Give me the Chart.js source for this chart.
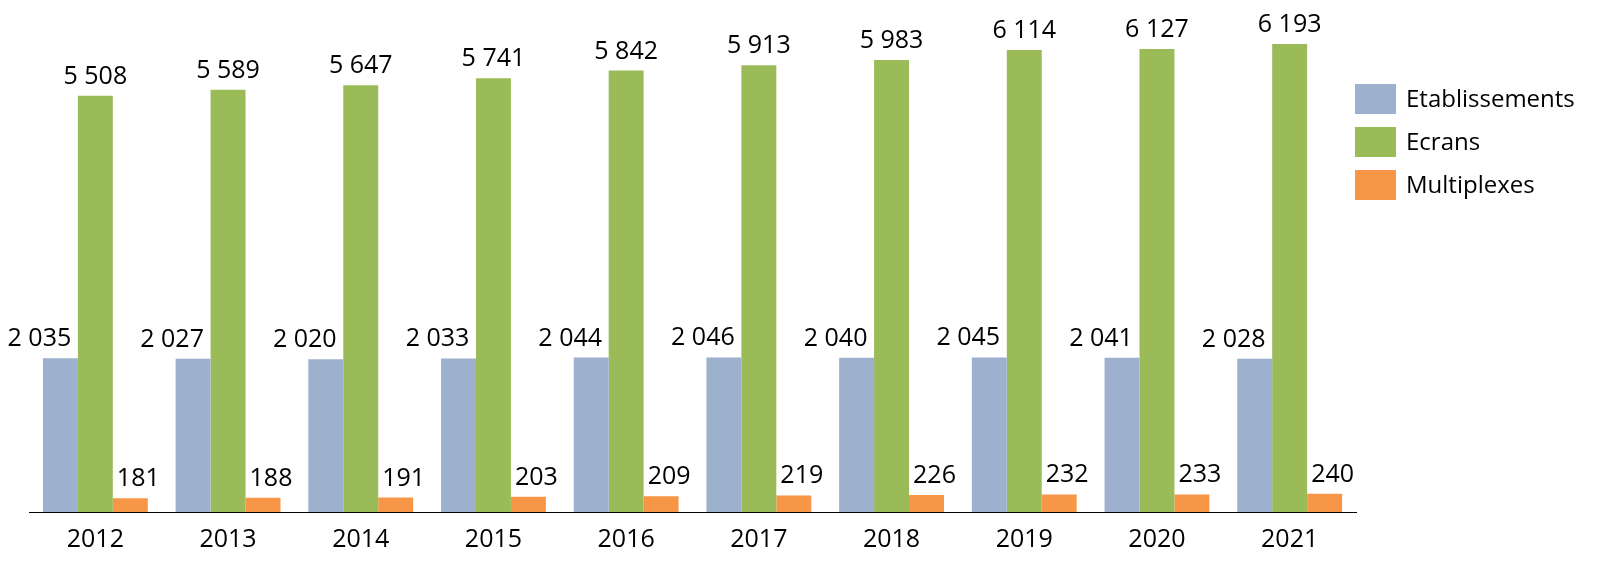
<!DOCTYPE html>
<html>
<head>
<meta charset="utf-8">
<script src="https://cdn.jsdelivr.net/npm/chart.js@4"></script>
<style>
  body { margin: 0; background: #fff; }
  canvas { display: block; }
</style>
</head>
<body>
<canvas id="chart" width="1599" height="574"></canvas>
<script>
const years = ["2012", "2013", "2014", "2015", "2016", "2017", "2018", "2019", "2020", "2021"];
const etablissements = [2035, 2027, 2020, 2033, 2044, 2046, 2040, 2045, 2041, 2028];
const ecrans = [5508, 5589, 5647, 5741, 5842, 5913, 5983, 6114, 6127, 6193];
const multiplexes = [181, 188, 191, 203, 209, 219, 226, 232, 233, 240];

const FONT = "'Open Sans', Lato, sans-serif";

function fmt(n) {
    return String(n).replace(/\B(?=(\d{3})+(?!\d))/g, " ");
}

// ---- value labels over the bars ----
const labelShift = [-21, 0, 8];
const valueLabels = {
    id: "valueLabels",
    afterDatasetsDraw(chart) {
        const ctx = chart.ctx;
        ctx.save();
        ctx.font = "25px " + FONT;
        ctx.fillStyle = "#000";
        ctx.textAlign = "center";
        ctx.textBaseline = "alphabetic";
        chart.data.datasets.forEach((ds, i) => {
            chart.getDatasetMeta(i).data.forEach((bar, j) => {
                ctx.fillText(fmt(ds.data[j]), bar.x + labelShift[i], bar.y - 12);
            });
        });
        ctx.restore();
    }
};

// ---- legend on the right ----
const sideLegend = {
    id: "sideLegend",
    afterDraw(chart) {
        const ctx = chart.ctx;
        ctx.save();
        ctx.font = "24px " + FONT;
        ctx.textBaseline = "middle";
        ctx.textAlign = "left";
        chart.data.datasets.forEach((ds, i) => {
            let y = 84 + i * 43;
            ctx.fillStyle = ds.backgroundColor;
            ctx.fillRect(1355, y, 41, 30);
            ctx.fillStyle = "#000";
            ctx.fillText(ds.label, 1406, y + 16);
        });
        ctx.restore();
    }
};

const ctx = document.getElementById("chart").getContext("2d");

new Chart(ctx, {
    type: "bar",
    data: {
        labels: years,
        datasets: [
            { label: "Etablissements", data: etablissements, backgroundColor: "#9DB0CE" },
            { label: "Ecrans", data: ecrans, backgroundColor: "#9BBB59" },
            { label: "Multiplexes", data: multiplexes, backgroundColor: "#F79646" }
        ]
    },
    options: {
        responsive: false,
        animation: false,
        layout: { padding: { left: 29, right: 243, top: 43.5, bottom: 0 } },
        datasets: { bar: { categoryPercentage: 0.79, barPercentage: 1 } },
        plugins: {
            legend: { display: false },
            tooltip: { enabled: false }
        },
        scales: {
            y: { display: false, min: 0, max: 6200 },
            x: {
                grid: { display: false, drawTicks: false },
                border: { display: true, color: "#000", width: 1 },
                ticks: { color: "#000", font: { family: FONT, size: 25 }, padding: 13 },
                afterFit(scale) { scale.height = 62; }
            }
        }
    },
    plugins: [valueLabels, sideLegend]
});
</script>
</body>
</html>
